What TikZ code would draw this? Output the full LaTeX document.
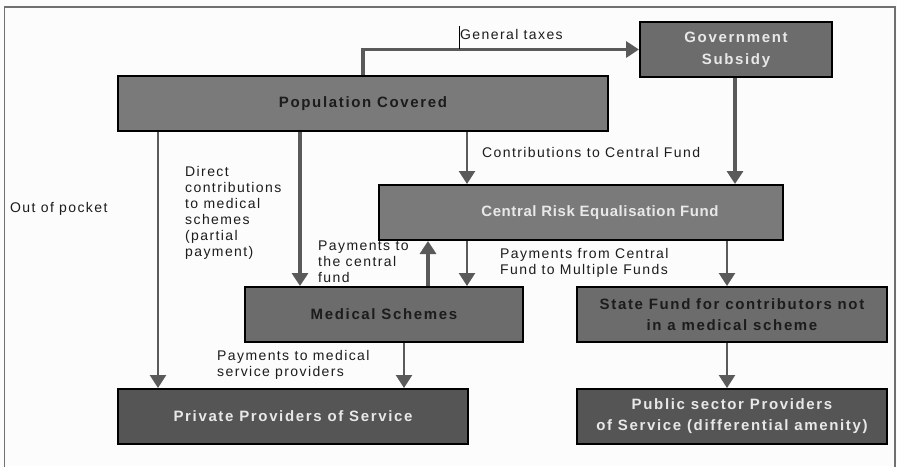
\documentclass[tikz,border=0pt]{standalone}
\usepackage{fontspec}
\setmainfont{Liberation Sans}
\newfontfamily\lblfont[LetterSpace=10]{Liberation Sans}
\newfontfamily\boxfont[LetterSpace=11]{Liberation Sans}
\newfontfamily\fundfont[LetterSpace=4]{Liberation Sans}
\usetikzlibrary{arrows.meta}
\definecolor{paper}{HTML}{FBFCFB}
\definecolor{framegray}{HTML}{707070}
\definecolor{boxlight}{HTML}{7A7A7A}
\definecolor{boxmid}{HTML}{6C6C6C}
\definecolor{boxdark}{HTML}{555555}
\definecolor{txtdark}{HTML}{1C1C1C}
\definecolor{txtlight}{HTML}{E8E8E8}
\definecolor{flowgray}{HTML}{5A5A5A}
\begin{document}
\begin{tikzpicture}[x=1pt,y=-1pt,
  box/.style={draw=black, line width=2pt, minimum height=55pt, inner sep=0pt,
    align=center, font=\boxfont\bfseries\fontsize{15}{21}\selectfont},
  lbl/.style={inner sep=0pt, anchor=north west, align=left, text=txtdark,
    font=\lblfont\fontsize{14}{16}\selectfont},
  flow/.style={draw=flowgray, line width=2.5pt,
    -{Triangle[width=16pt,length=13pt]}},
  heavy/.style={flow, line width=4pt}]

% canvas and open frame
\fill[paper] (0,0) rectangle (897,466);
\useasboundingbox (0,0) rectangle (897,466);
\draw[framegray, line width=1.5pt] (4.5,470) -- (4.5,7) -- (895,7) -- (895,470);

% boxes
\node[box, fill=boxlight, text=txtdark, minimum width=490pt] (pop) at (363,103.5) {Population Covered};
\node[box, fill=boxmid, text=txtlight, minimum width=192pt, font=\boxfont\bfseries\fontsize{15}{22}\selectfont] (gov) at (736,49.5) {Government\\Subsidy};
\node[box, fill=boxlight, text=txtlight, minimum width=404pt, font=\fundfont\bfseries\fontsize{15}{21}\selectfont] (crf) at (581,212.5) {\hspace*{38pt}Central Risk Equalisation Fund};
\node[box, fill=boxmid, text=txtdark, minimum width=278pt] (med) at (384,314.5) {Medical Schemes};
\node[box, fill=boxmid, text=txtdark, minimum width=310pt] (state) at (732,314.5) {State Fund for contributors not\\in a medical scheme};
\node[box, fill=boxdark, text=txtlight, minimum width=350pt] (priv) at (293,416.5) {Private Providers of Service};
\node[box, fill=boxdark, text=txtlight, minimum width=310pt] (pub) at (732,416.5) {Public sector Providers\\of Service (differential amenity)};

% connector columns
\coordinate (xTax) at (363,0);
\coordinate (xPock) at (158,0);
\coordinate (xDirect) at (300,0);
\coordinate (xUp) at (428,0);
\coordinate (xCentral) at (467,0);
\coordinate (xGov) at (735,0);
\coordinate (xState) at (727,0);
\coordinate (xPay) at (404,0);

% connectors
\draw[heavy, line width=3.5pt] (pop.north -| xTax) |- (gov.west);
\draw[heavy] (gov.south -| xGov) -- (crf.north -| xGov);
\draw[flow] (pop.south -| xCentral) -- (crf.north -| xCentral);
\draw[flow] (pop.south -| xPock) -- (priv.north -| xPock);
\draw[heavy] (pop.south -| xDirect) -- (med.north -| xDirect);
\draw[heavy] (med.north -| xUp) -- (crf.south -| xUp);
\draw[flow] (crf.south -| xCentral) -- (med.north -| xCentral);
\draw[flow] (crf.south -| xState) -- (state.north -| xState);
\draw[flow] (med.south -| xPay) -- (priv.north -| xPay);
\draw[flow] (state.south -| xState) -- (pub.north -| xState);

% connector labels
\node[lbl] (ltax) at (460,29.5) {General taxes};
\draw[black, line width=0.8pt] (459,26) -- (459,49);
\node[lbl] (lcontrib) at (482,147.5) {Contributions to Central Fund};
\node[lbl] (lpocket) at (10,202.5) {Out of pocket};
\node[lbl] (ldirect) at (185,166.5) {Direct\\contributions\\to medical\\schemes\\(partial\\payment)};
\node[lbl] (lcentral) at (318,241) {Payments to\\the central\\fund};
\node[lbl] (lmulti) at (500,248) {Payments from Central\\Fund to Multiple Funds};
\node[lbl] (lprov) at (217,350.5) {Payments to medical\\service providers};
\end{tikzpicture}
\end{document}
